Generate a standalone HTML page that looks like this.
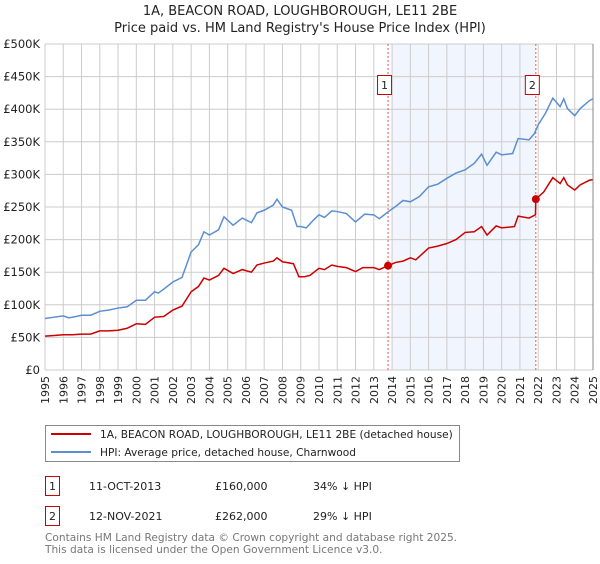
<!DOCTYPE html>
<html><head><meta charset="utf-8"><style>
body{margin:0;background:#fff;font-family:"DejaVu Sans","Liberation Sans",sans-serif;}
svg text{font-family:"DejaVu Sans","Liberation Sans",sans-serif;}
</style></head><body>
<svg id="chart" width="600" height="560" xmlns="http://www.w3.org/2000/svg">
<text x="300" y="15" text-anchor="middle" font-size="13" fill="#222">1A, BEACON ROAD, LOUGHBOROUGH, LE11 2BE</text>
<text x="300" y="32" text-anchor="middle" font-size="13" fill="#222">Price paid vs. HM Land Registry's House Price Index (HPI)</text>
<g id="plot"></g>
<g>
<rect x="45.5" y="425.5" width="414" height="36" fill="#fff" stroke="#888"/>
<line x1="51" y1="434" x2="91" y2="434" stroke="#cc0000" stroke-width="2"/>
<text x="100" y="438" font-size="10.6" fill="#222">1A, BEACON ROAD, LOUGHBOROUGH, LE11 2BE (detached house)</text>
<line x1="51" y1="452" x2="91" y2="452" stroke="#5b8fd4" stroke-width="2"/>
<text x="100" y="456" font-size="10.6" fill="#222">HPI: Average price, detached house, Charnwood</text>
</g>
<g font-size="11" fill="#222">
<rect x="45.5" y="476.5" width="14" height="19" fill="#fff" stroke="#cc0000"/>
<text x="52.5" y="490" text-anchor="middle">1</text>
<text x="89" y="490">11-OCT-2013</text><text x="215" y="490">£160,000</text><text x="313" y="490">34% ↓ HPI</text>
<rect x="45.5" y="506.5" width="14" height="19" fill="#fff" stroke="#cc0000"/>
<text x="52.5" y="520" text-anchor="middle">2</text>
<text x="89" y="520">12-NOV-2021</text><text x="215" y="520">£262,000</text><text x="313" y="520">29% ↓ HPI</text>
</g>
<text x="45" y="541" font-size="10.6" fill="#777">Contains HM Land Registry data © Crown copyright and database right 2025.</text>
<text x="45" y="553" font-size="10.6" fill="#777">This data is licensed under the Open Government Licence v3.0.</text>
</svg>
<script>
const hpiT=[1995,1995.5,1996,1996.3,1996.7,1997,1997.5,1998,1998.5,1999,1999.5,2000,2000.5,2001,2001.2,2001.5,2002,2002.5,2003,2003.4,2003.7,2004,2004.5,2004.8,2005.3,2005.8,2006.3,2006.6,2007,2007.5,2007.7,2008,2008.5,2008.8,2009,2009.3,2009.7,2010,2010.3,2010.7,2011,2011.5,2012,2012.5,2013,2013.3,2013.8,2014.2,2014.6,2015,2015.5,2016,2016.5,2017,2017.5,2018,2018.5,2018.9,2019.2,2019.7,2020,2020.6,2020.9,2021.5,2021.8,2022,2022.4,2022.8,2023.2,2023.4,2023.6,2024,2024.3,2024.8,2025];
const hpiV=[79,81,83,80,82,84,84,90,92,95,97,107,107,120,118,124,135,142,181,192,212,207,215,235,222,233,226,241,245,253,262,250,245,220,220,218,230,238,234,244,243,240,227,239,238,232,243,251,260,258,266,281,285,294,302,307,317,331,314,334,330,332,355,353,363,376,394,417,404,416,401,390,401,413,416];
const ppT=[1995,1995.5,1996,1996.5,1997,1997.5,1998,1998.5,1999,1999.5,2000,2000.5,2001,2001.5,2002,2002.5,2003,2003.4,2003.7,2004,2004.5,2004.8,2005.3,2005.8,2006.3,2006.6,2007,2007.5,2007.7,2008,2008.6,2008.9,2009.2,2009.5,2010,2010.3,2010.7,2011,2011.5,2012,2012.4,2013,2013.3,2013.78,2014.2,2014.6,2015,2015.3,2016,2016.5,2017,2017.5,2018,2018.5,2018.9,2019.2,2019.7,2020,2020.7,2020.9,2021.5,2021.85,2021.87,2022.3,2022.8,2023.2,2023.4,2023.6,2024,2024.3,2024.8,2025];
const ppV=[52,53,54,54,55,55,60,60,61,64,71,70,81,82,92,98,120,128,141,138,145,156,148,154,150,161,164,167,172,166,163,143,143,145,156,154,161,159,157,151,157,157,154,160,165,167,172,169,187,190,194,200,211,212,220,207,221,218,220,236,233,238,262,273,295,286,295,284,276,284,291,292];
const saleT=[2013.78,2021.87];
const saleV=[160,262];
const yTicks=[0,50,100,150,200,250,300,350,400,450,500];
const yLabels=["£0","£50K","£100K","£150K","£200K","£250K","£300K","£350K","£400K","£450K","£500K"];
const xYears=[1995,1996,1997,1998,1999,2000,2001,2002,2003,2004,2005,2006,2007,2008,2009,2010,2011,2012,2013,2014,2015,2016,2017,2018,2019,2020,2021,2022,2023,2024,2025];
const X0=45,X1=593,Y0=370,Y1=44;
const xs=t=>X0+(t-1995)*(X1-X0)/30;
const ys=v=>Y0-v*(Y0-Y1)/500;
const NS="http://www.w3.org/2000/svg";
const g=document.getElementById('plot');
function mk(tag,attrs,parent){const e=document.createElementNS(NS,tag);for(const k in attrs)e.setAttribute(k,attrs[k]);(parent||g).appendChild(e);return e;}
let r=mk('rect',{x:X0,y:Y1,width:X1-X0,height:Y0-Y1,fill:'#fff'});


r=mk('rect',{x:xs(2014),y:Y1,width:xs(saleT[1])-xs(2014),height:Y0-Y1,fill:'#eef3fc',opacity:0.8});


xYears.forEach(y=>{const l=mk('line',{x1:xs(y),x2:xs(y),y1:Y1,y2:Y0,stroke:'#cccccc','stroke-width':1});


const t=mk('text',{x:0,y:0,'font-size':11,fill:'#222','text-anchor':'end',transform:`translate(${xs(y)+4},${Y0+6}) rotate(-90)`});t.textContent=y;

});
yTicks.forEach((v,i)=>{const l=mk('line',{x1:X0,x2:X1,y1:ys(v),y2:ys(v),stroke:'#cccccc','stroke-width':1});


const t=mk('text',{x:40,y:ys(v)+4,'font-size':11.5,fill:'#222','text-anchor':'end'});t.textContent=yLabels[i];

});
saleT.forEach((s,i)=>{const l=mk('line',{x1:xs(s),x2:xs(s),y1:Y1,y2:Y0,stroke:'#ee5555','stroke-width':1,'stroke-dasharray':'2,2'});


const b=mk('rect',{x:xs(s)-10.5,y:75.5,width:14,height:19,fill:'#fff',stroke:'#cc0000'});


const t=mk('text',{x:xs(s)-3.5,y:89,'font-size':11,fill:'#222','text-anchor':'middle'});t.textContent=i+1;

});
const p1=mk('polyline',{points:hpiT.map((t,i)=>xs(t)+','+ys(hpiV[i])).join(' '),fill:'none',stroke:'#5b8fd4','stroke-width':1.5});


const p2=mk('polyline',{points:ppT.map((t,i)=>xs(t)+','+ys(ppV[i])).join(' '),fill:'none',stroke:'#cc0000','stroke-width':1.5});


saleT.forEach((s,i)=>{const c=mk('circle',{cx:xs(s),cy:ys(saleV[i]),r:4,fill:'#cc0000'});

});
const ax=mk('line',{x1:X1,x2:X1,y1:Y1,y2:Y0,stroke:'#888','stroke-width':1});


</script>
</body></html>
